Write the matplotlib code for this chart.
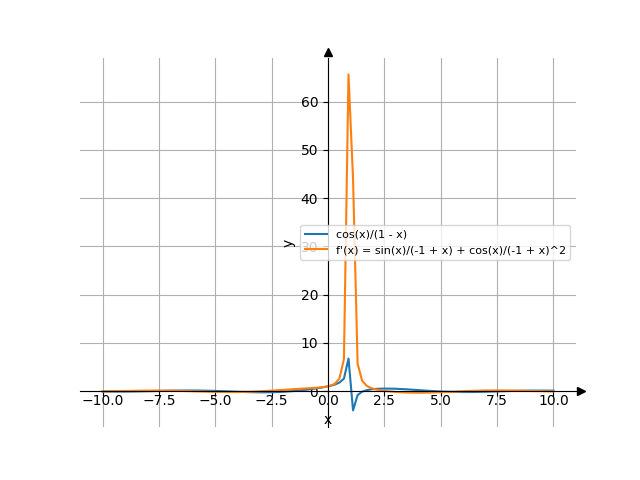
import matplotlib
matplotlib.use("Agg")
import matplotlib.pyplot as plt

# sample points (denser around the pole at x = 1)
x = [-10.0, -9.5, -9.0, -8.5, -8.0, -7.5, -7.0, -6.5, -6.0, -5.5, -5.0, -4.5,
     -4.0, -3.5, -3.0, -2.5, -2.0, -1.5, -1.0, -0.5, -0.303, -0.101, 0.101,
     0.303, 0.505, 0.707, 0.909, 1.111, 1.313, 1.515, 1.717, 1.919, 2.121,
     2.5, 3.0, 3.5, 4.0, 4.5, 5.0, 5.5, 6.0, 6.5, 7.0, 7.5, 8.0, 8.5, 9.0,
     9.5, 10.0]

f_vals = [-0.076, -0.095, -0.091, -0.063, -0.016, 0.041, 0.094, 0.130, 0.137,
          0.109, 0.047, -0.038, -0.131, -0.208, -0.248, -0.229, -0.139, 0.028,
          0.270, 0.585, 0.732, 0.904, 1.107, 1.369, 1.768, 2.595, 6.759,
          -3.993, -0.814, -0.108, 0.203, 0.371, 0.467, 0.534, 0.495, 0.375,
          0.218, 0.060, -0.071, -0.157, -0.192, -0.178, -0.126, -0.053, 0.021,
          0.080, 0.114, 0.117, 0.093]

df_vals = [-0.056, -0.002, 0.032, 0.077, 0.108, 0.115, 0.094, 0.046, -0.020,
           -0.092, -0.152, -0.185, -0.178, -0.124, -0.027, 0.106, 0.257, 0.410,
           0.556, 0.710, 0.791, 0.912, 1.119, 1.537, 2.594, 6.639, 65.67,
           44.00, 5.687, 2.148, 1.096, 0.619, 0.344, 0.043, -0.177, -0.290,
           -0.325, -0.297, -0.222, -0.122, -0.018, 0.071, 0.130, 0.153, 0.138,
           0.096, 0.037, -0.005, -0.071]

fig, ax = plt.subplots(figsize=(6.4, 4.8), dpi=100)

ax.plot(x, f_vals, label="cos(x)/(1 - x)")
ax.plot(x, df_vals, label="f'(x) = sin(x)/(-1 + x) + cos(x)/(-1 + x)^2")

# axes through the origin, sympy style
ax.spines["left"].set_position(("data", 0))
ax.spines["bottom"].set_position(("data", 0))
ax.spines["right"].set_visible(False)
ax.spines["top"].set_visible(False)
ax.plot(1.01, 0, ">k", transform=ax.get_yaxis_transform(), clip_on=False)
ax.plot(0, 1.015, "^k", transform=ax.get_xaxis_transform(), clip_on=False)
ax.tick_params(axis="x", pad=-1.5)

ax.set_xlabel("x")
ax.set_ylabel("y")
ax.grid(True)
ax.legend(loc="center right", fontsize=8)

fig.savefig("out.png", dpi=100)
